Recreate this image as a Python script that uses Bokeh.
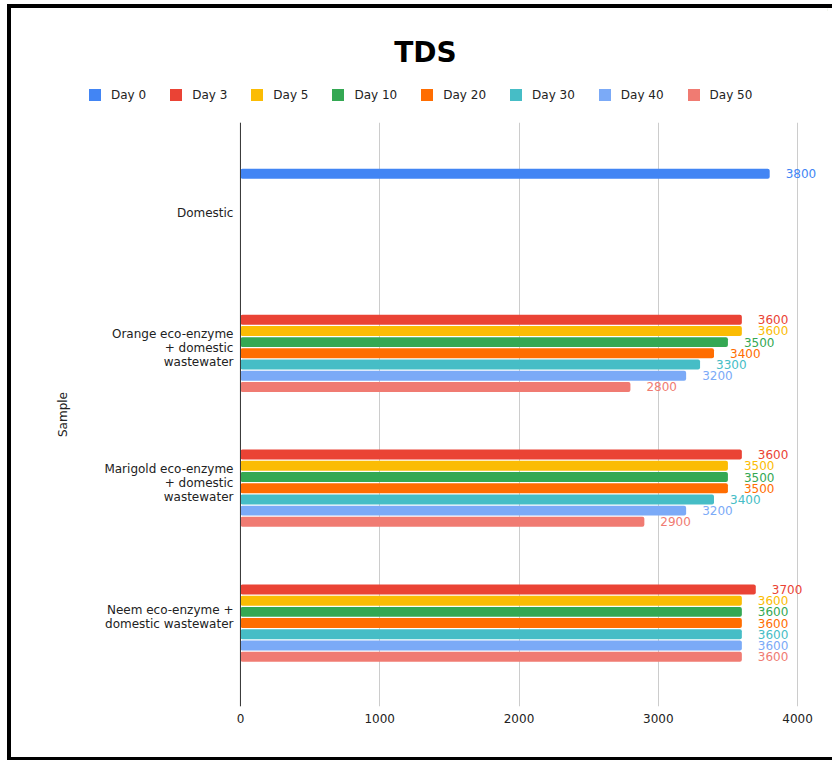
from bokeh.plotting import figure
from bokeh.layouts import column
from bokeh.models import (ColumnDataSource, Range1d, FixedTicker, Legend, LegendItem,
                          Label, Span)
from bokeh.core.properties import value
from bokeh.embed import file_html
from bokeh.resources import INLINE

# ---- data ----
samples = ["Domestic",
           "Orange eco-enzyme + domestic wastewater",
           "Marigold eco-enzyme + domestic wastewater",
           "Neem eco-enzyme + domestic wastewater"]
sample_labels = ["Domestic",
                 "Orange eco-enzyme\n+ domestic\nwastewater",
                 "Marigold eco-enzyme\n+ domestic\nwastewater",
                 "Neem eco-enzyme +\ndomestic wastewater"]
days = ["Day 0", "Day 3", "Day 5", "Day 10", "Day 20", "Day 30", "Day 40", "Day 50"]
day0 = [3800, None, None, None]
day3 = [None, 3600, 3600, 3700]
day5 = [None, 3600, 3500, 3600]
day10 = [None, 3500, 3500, 3600]
day20 = [None, 3400, 3500, 3600]
day30 = [None, 3300, 3400, 3600]
day40 = [None, 3200, 3200, 3600]
day50 = [None, 2800, 2900, 3600]
series = [day0, day3, day5, day10, day20, day30, day40, day50]
x_ticks = [0, 1000, 2000, 3000, 4000]

colors = ["#4285F4", "#EA4335", "#FBBC04", "#34A853",
          "#FF6D01", "#46BDC6", "#7BAAF7", "#F07B72"]

FONT = "DejaVu Sans"
n = len(samples)
slot = 0.0831
bar_h = 0.074

W = 821
H_HEAD = 110
H_MAIN = 639
L = 66      # left border of the plot frames
R = 5       # right border

# ---------- header (title + legend) ----------
head = figure(width=W, height=H_HEAD, output_backend="svg", toolbar_location=None,
              x_range=Range1d(L, W - R), y_range=Range1d(H_HEAD, 0),
              x_axis_type=None, y_axis_type=None,
              min_border_left=L, min_border_right=R, min_border_top=0,
              min_border_bottom=0)
head.outline_line_color = None
head.grid.grid_line_color = None
head.background_fill_color = "white"
head.border_fill_color = "white"

head.add_layout(Label(x=414, y=44, text="TDS", text_align="center",
                      text_baseline="middle", text_font=FONT,
                      text_font_size="28px", text_font_style="bold",
                      text_color="black"))

# ---------- main plot ----------
p = figure(width=W, height=H_MAIN, output_backend="svg", toolbar_location=None,
           x_range=Range1d(-1170, 4215), y_range=Range1d(-0.66, n - 1 + 0.67),
           min_border_left=L, min_border_right=R, min_border_bottom=51,
           min_border_top=4)
p.background_fill_color = "white"
p.border_fill_color = "white"
p.outline_line_color = None

items = []
for j, (vals, col, name) in enumerate(zip(series, colors, days)):
    ys, vs, labs = [], [], []
    for i, v in enumerate(vals):
        if v is None:
            continue
        ys.append((n - 1 - i) + (3.5 - j) * slot)
        vs.append(v)
        labs.append(str(v))
    src = ColumnDataSource(dict(y=ys, v=vs, lab=labs))
    p.hbar(y="y", left=0, right="v", height=bar_h, source=src,
           fill_color=col, line_color=None, border_radius=2)
    p.text(x="v", y="y", text="lab", source=src, x_offset=16,
           text_align="left", text_baseline="middle", text_color=col,
           text_font_size="12px", text_font=value(FONT))
    # zero-width twin in the header, used only for the legend swatch
    hr = head.hbar(y="y", left="v", right="v", height=bar_h, source=src,
                   fill_color=col, line_color=None, border_radius=2)
    items.append(LegendItem(label=name, renderers=[hr]))

legend = Legend(items=items, orientation="horizontal", location=(10, 16),
                glyph_width=15, glyph_height=15, label_standoff=9, spacing=22,
                label_text_font=FONT, label_text_font_size="12px",
                label_text_color="#222222", border_line_color=None,
                background_fill_alpha=0, padding=6, margin=0)
head.add_layout(legend, "center")

# category labels at the value axis baseline
cat_src = ColumnDataSource(dict(x=[0] * n, y=[n - 1 - i for i in range(n)],
                                t=sample_labels))
p.text(x="x", y="y", text="t", source=cat_src, x_offset=-7,
       text_align="right", text_baseline="middle", text_color="#222222",
       text_font_size="12px", text_font=value(FONT), text_line_height=1.0)

p.add_layout(Span(location=0, dimension="height", line_color="#333333",
                  line_width=1))

# axes
p.xaxis.ticker = FixedTicker(ticks=x_ticks)
p.xaxis.axis_line_color = None
p.xaxis.major_tick_line_color = None
p.xaxis.major_tick_out = 0
p.xaxis.minor_tick_line_color = None
p.xaxis.major_label_standoff = 7
p.xaxis.major_label_text_font = FONT
p.xaxis.major_label_text_font_size = "12px"
p.xaxis.major_label_text_color = "#222222"

p.yaxis.ticker = FixedTicker(ticks=[])
p.yaxis.axis_line_color = None
p.yaxis.major_tick_line_color = None
p.yaxis.major_tick_out = 0
p.yaxis.minor_tick_line_color = None
p.yaxis.major_label_standoff = 0
p.yaxis.axis_label = "Sample"
p.yaxis.axis_label_text_font = FONT
p.yaxis.axis_label_text_font_size = "12px"
p.yaxis.axis_label_text_font_style = "normal"
p.yaxis.axis_label_text_color = "#222222"
p.yaxis.axis_label_standoff = 8

p.xgrid.ticker = FixedTicker(ticks=x_ticks)
p.xgrid.grid_line_color = "#cccccc"
p.ygrid.grid_line_color = None

layout = column(head, p, spacing=0, margin=(4, 0, 0, 7),
                styles={"border-left": "4px solid black",
                        "border-top": "4px solid black",
                        "border-bottom": "3px solid black"})

open("out.html", "w").write(file_html(layout, INLINE))
